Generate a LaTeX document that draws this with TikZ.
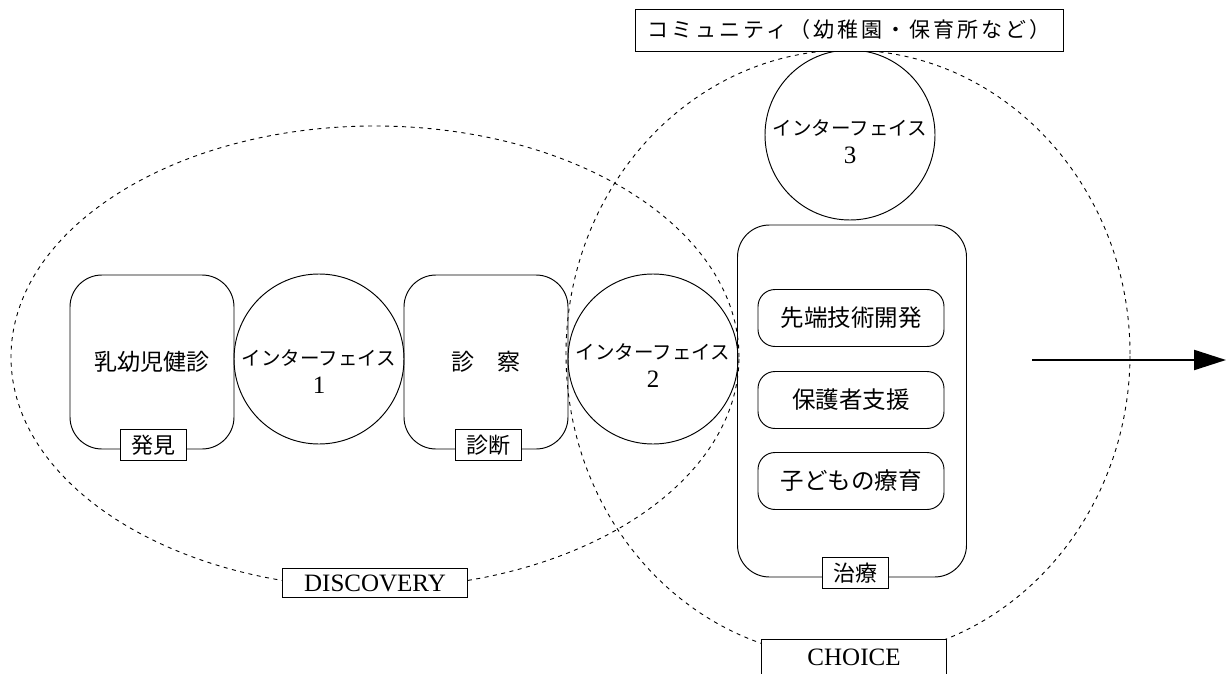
\documentclass[tikz,border=0pt]{standalone}
\usepackage{fontspec}
\setmainfont{Liberation Serif}
\newfontfamily\jp{Noto Sans CJK JP}
\newfontfamily\jpwide[LetterSpace=14]{Noto Sans CJK JP}
\usetikzlibrary{arrows.meta}
\newcommand\latn{\rmfamily\fontsize{25}{27}\selectfont}
\begin{document}
\begin{tikzpicture}[x=1pt,y=-1pt,
  line width=0.95pt,
  every node/.style={inner sep=0pt,outer sep=0pt},
  stagebox/.style={draw,rounded corners=32pt,minimum width=164pt,minimum height=174pt,font=\jp\fontsize{23}{26}\selectfont},
  iface/.style={draw,circle,minimum size=170pt},
  iftext/.style={align=center,font=\jp\fontsize{19.5}{28}\selectfont},
  tagbox/.style={draw,fill=white,minimum width=66pt,minimum height=31pt,font=\jp\fontsize{22}{24}\selectfont},
  itembox/.style={draw,rounded corners=17pt,minimum width=186pt,minimum height=57pt,font=\jp\fontsize{23.5}{26}\selectfont},
  region/.style={draw,dash pattern=on 4pt off 4.5pt,line width=0.9pt},
  caption/.style={draw,fill=white,minimum width=185pt,minimum height=29pt,font=\latn},
  flow/.style={line width=2.2pt,-{Triangle[length=32pt,width=20pt]}}
]
\useasboundingbox (0,0) rectangle (1227,674);

% regions
\draw[region] (375,357) ellipse [x radius=364pt, y radius=231pt];
\draw[region] (848,354) ellipse [x radius=282pt, y radius=304pt];

% left row
\node[stagebox] (kenshin) at (152,362) {乳幼児健診};
\node[iface] (if1) at (319,359) {};
\node[iftext] (if1t) at (319,372) {インターフェイス\\{\latn 1}};
\node[stagebox] (shinsatsu) at (486,362) {診　察};
\node[iface] (if2) at (653,359) {};
\node[iftext] (if2t) at (653,366) {インターフェイス\\{\latn 2}};
\node[tagbox] (hakken) at (153,445) {発見};
\node[tagbox] (shindan) at (488,445) {診断};

% right column
\node[draw,rounded corners=32pt,minimum width=229pt,minimum height=352pt] (chiryo) at (852,401) {};
\node[itembox] (sentan) at (851,318) {先端技術開発};
\node[itembox] (hogo) at (851,400) {保護者支援};
\node[itembox] (ryoiku) at (851,481) {子どもの療育};
\node[tagbox] (chiryotag) at (855,573) {治療};
\node[iface] (if3) at (850,135) {};
\node[iftext] (if3t) at (850,142) {インターフェイス\\{\latn 3}};

% captions
\node[draw,fill=white,minimum width=428pt,minimum height=42pt,font=\jpwide\fontsize{21}{23}\selectfont] (community) at (849,30) {コミュニティ（幼稚園・保育所など）};
\node[caption] (discovery) at (375,583) {DISCOVERY};
\node[caption,minimum height=36pt] (choice) at (854,657) {CHOICE};

% arrow
\coordinate (arrS) at (1032,360);
\coordinate (arrE) at (1226,360);
\draw[flow] (arrS) -- (arrE);
\end{tikzpicture}
\end{document}
